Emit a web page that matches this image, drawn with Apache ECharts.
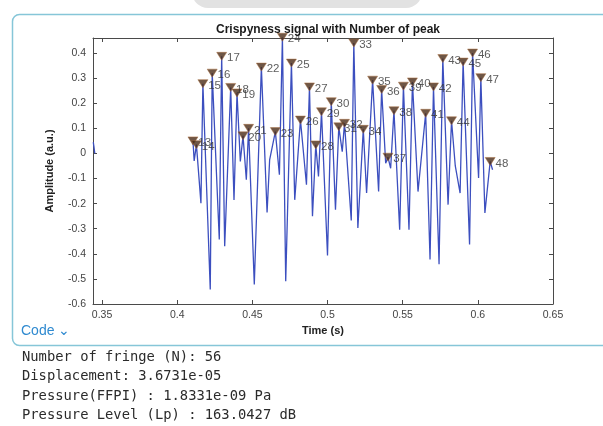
<!DOCTYPE html>
<html><head><meta charset="utf-8">
<script src="https://cdn.jsdelivr.net/npm/echarts@6/dist/echarts.min.js"></script>
<style>html,body{margin:0;padding:0;background:#fff;}#c{width:603px;height:426px;}</style>
</head><body><div id="c"></div>
<script>
// signal vertices (time s, amplitude a.u.)
const edgeTime = [0.3442, 0.3452];
const edgeAmp  = [0.045, 0.0];
const sigTime = [0.4105,0.4113,0.4128,0.4158,0.4171,0.4220,0.4233,0.4280,0.4296,0.4316,0.4356,0.4378,0.4398,0.4420,0.4438,0.4460,0.4475,0.4513,0.4560,0.4598,0.4615,0.4653,0.4680,0.4700,0.4722,0.4760,0.4782,0.4820,0.4860,0.4880,0.4900,0.4922,0.4940,0.4960,0.5000,0.5025,0.5053,0.5075,0.5098,0.5113,0.5158,0.5175,0.5202,0.5238,0.5260,0.5300,0.5340,0.5360,0.5387,0.5402,0.5420,0.5442,0.5480,0.5505,0.5542,0.5565,0.5602,0.5653,0.5682,0.5705,0.5742,0.5767,0.5802,0.5825,0.5850,0.5882,0.5902,0.5945,0.5965,0.6005,0.6020,0.6047,0.6082,0.6098];
const sigAmp  = [0.050,-0.030,0.035,-0.198,0.278,-0.542,0.320,-0.343,0.387,-0.370,0.263,-0.185,0.241,-0.032,0.070,-0.105,0.100,-0.522,0.344,-0.235,-0.026,0.087,-0.085,0.463,-0.509,0.360,-0.185,0.133,-0.125,0.265,-0.250,0.034,-0.092,0.166,-0.407,0.206,-0.224,0.106,0.007,0.120,-0.267,0.440,-0.297,0.096,-0.158,0.292,-0.152,0.255,-0.039,-0.015,-0.059,0.170,-0.304,0.268,-0.304,0.285,-0.152,0.160,-0.423,0.265,-0.442,0.378,-0.204,0.130,-0.050,-0.158,0.364,-0.363,0.400,-0.098,0.302,-0.237,-0.032,-0.065];
// detected peaks
const peakIds  = [13,14,15,16,17,18,19,20,21,22,23,24,25,26,27,28,29,30,31,32,33,34,35,36,37,38,39,40,41,42,43,44,45,46,47,48];
const peakTime = [0.4105,0.4128,0.4171,0.4233,0.4296,0.4356,0.4398,0.4438,0.4475,0.4560,0.4653,0.4700,0.4760,0.4820,0.4880,0.4922,0.4960,0.5025,0.5075,0.5113,0.5175,0.5238,0.5300,0.5360,0.5402,0.5442,0.5505,0.5565,0.5653,0.5705,0.5767,0.5825,0.5902,0.5965,0.6020,0.6082];
const peakAmp  = [0.050,0.035,0.278,0.320,0.387,0.263,0.241,0.070,0.100,0.344,0.087,0.463,0.360,0.133,0.265,0.034,0.166,0.206,0.106,0.120,0.440,0.096,0.292,0.255,-0.015,0.170,0.268,0.285,0.160,0.265,0.378,0.130,0.364,0.400,0.302,-0.032];
// axes
const xTicks = [0.35,0.4,0.45,0.5,0.55,0.6,0.65];
const yTicks = [-0.6,-0.5,-0.4,-0.3,-0.2,-0.1,0,0.1,0.2,0.3,0.4];
const outputLines = ["Number of fringe (N): 56","Displacement: 3.6731e-05","Pressure(FFPI) : 1.8331e-09 Pa","Pressure Level (Lp) : 163.0427 dB"];

const chart = echarts.init(document.getElementById('c'), null, {renderer:'canvas'});
const axisCol = '#4a4a4a';
const FONT = 'Liberation Sans, Arial, sans-serif';
function xAx(pos, labels){
  return {type:'value', position:pos, min:0.344, max:0.65,
    axisLine:{show:true, onZero:false, lineStyle:{color:axisCol, width:1}},
    axisTick:{show:true, inside:true, length:4, customValues:xTicks, lineStyle:{color:axisCol}},
    axisLabel:{show:labels, customValues:xTicks, color:'#444', fontSize:10.5, fontFamily:FONT, margin:6,
      formatter:v=>String(+v.toFixed(2))},
    splitLine:{show:false},
    name: labels ? 'Time (s)' : '', nameLocation:'middle', nameGap:20,
    nameTextStyle:{fontWeight:'bold', fontSize:11, color:'#222', fontFamily:FONT}};
}
function yAx(pos, labels){
  return {type:'value', position:pos, min:-0.6, max:0.46,
    axisLine:{show:true, onZero:false, lineStyle:{color:axisCol, width:1}},
    axisTick:{show:true, inside:true, length:4, customValues:yTicks, lineStyle:{color:axisCol}},
    axisLabel:{show:labels, customValues:yTicks, color:'#444', fontSize:10.5, fontFamily:FONT, margin:7,
      formatter:v=>String(+v.toFixed(1))},
    splitLine:{show:false},
    name: labels ? 'Amplitude (a.u.)' : '', nameLocation:'middle', nameGap:38,
    nameTextStyle:{fontWeight:'bold', fontSize:11, color:'#222', fontFamily:FONT}};
}
const g = [
  {type:'rect', left:10, top:12, shape:{width:620, height:331, r:7}, style:{fill:'none', stroke:'#86c6d8', lineWidth:1.5}, z:-1},
  {type:'rect', left:192, top:-25, shape:{width:230, height:33, r:16}, style:{fill:'#e2e2e2'}, z:-1},
  {type:'text', left:21, top:324, style:{text:'Code \u2304', fill:'#2f8ad0', font:'14px '+FONT}}
];
outputLines.forEach((t,i)=>{
  g.push({type:'text', left:22, top:350+i*19.6, style:{text:t, fill:'#2b2b2b', font:'13.8px "DejaVu Sans Mono", monospace'}});
});
chart.setOption({
  animation:false,
  backgroundColor:'#fff',
  title:{text:'Crispyness signal with Number of peak', left:323, top:19, textAlign:'center',
    textStyle:{fontSize:12, fontWeight:'bold', color:'#1a1a1a', fontFamily:FONT}},
  grid:{left:93, right:50, top:38, bottom:122, containLabel:false},
  xAxis:[xAx('bottom', true), xAx('top', false)],
  yAxis:[yAx('left', true), yAx('right', false)],
  graphic:g,
  series:[
    {type:'line', data:edgeTime.map((t,i)=>[t, edgeAmp[i]]), showSymbol:false, clip:true,
      lineStyle:{color:'#3c4fbf', width:1.3}},
    {type:'line', data:sigTime.map((t,i)=>[t, sigAmp[i]]), showSymbol:false, clip:true,
      lineStyle:{color:'#3c4fbf', width:1.3}},
    {type:'scatter', data:peakTime.map((t,i)=>({value:[t, peakAmp[i]], name:String(peakIds[i])})),
      symbol:'triangle', symbolRotate:180, symbolSize:[10,8], clip:false,
      itemStyle:{color:'#4a2c18', borderColor:'#a86a3a', borderWidth:0.6},
      label:{show:true, position:'right', distance:0, offset:[0,2], formatter:p=>p.name,
        color:'#333', fontSize:11.5, fontFamily:FONT}, z:5}
  ]
});
</script></body></html>
